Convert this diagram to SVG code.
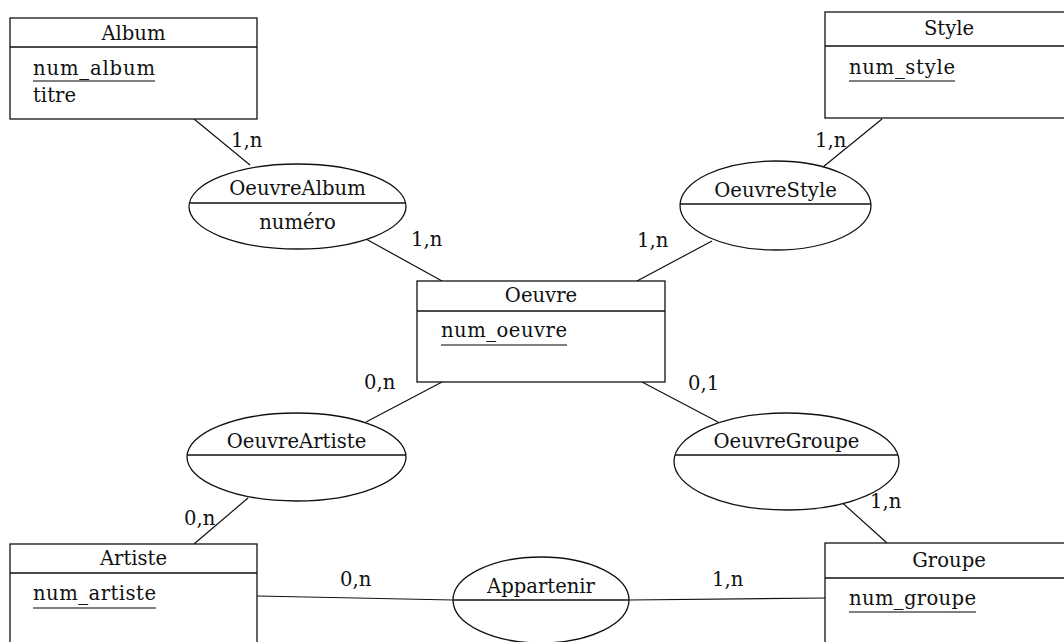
<svg xmlns="http://www.w3.org/2000/svg" width="1064" height="642" viewBox="0 0 1064 642">
  <style>
    text { font-family: "DejaVu Serif", "Liberation Serif", serif; font-size: 19.6px; fill: #111; }
    .c { text-anchor: middle; }
    .box { fill: #fff; stroke: #111; stroke-width: 1.3; }
    .div { stroke: #111; stroke-width: 1.3; }
    .key { stroke: #555; stroke-width: 1.4; }
    .link { stroke: #111; stroke-width: 1.2; fill: none; }
  </style>
  <rect width="1064" height="642" fill="#fff"/>

  <!-- connectors between entities and associations -->
  <g id="connectors">
    <line class="link" x1="194" y1="119" x2="250" y2="165"/>
    <line class="link" x1="366" y1="239" x2="442" y2="281"/>
    <line class="link" x1="882" y1="119" x2="823" y2="167"/>
    <line class="link" x1="712" y1="241" x2="637" y2="281"/>
    <line class="link" x1="442" y1="382" x2="366" y2="422"/>
    <line class="link" x1="642" y1="382" x2="718" y2="422"/>
    <line class="link" x1="248" y1="498" x2="194" y2="544"/>
    <line class="link" x1="837" y1="498" x2="887" y2="543"/>
    <line class="link" x1="257" y1="596" x2="453" y2="600"/>
    <line class="link" x1="629" y1="600" x2="825" y2="598"/>
    <text x="231" y="147">1,n</text>
    <text x="411" y="246">1,n</text>
    <text x="815" y="147">1,n</text>
    <text x="637" y="247">1,n</text>
    <text x="364" y="389">0,n</text>
    <text x="688" y="390">0,1</text>
    <text x="184" y="525">0,n</text>
    <text x="870" y="508">1,n</text>
    <text x="340" y="586">0,n</text>
    <text x="712" y="586">1,n</text>
  </g>

  <!-- entities -->
  <g id="album">
    <rect class="box" x="10" y="18" width="247" height="101"/>
    <line class="div" x1="10" y1="47" x2="257" y2="47"/>
    <text class="c" x="133.5" y="40">Album</text>
    <text x="33" y="75" textLength="122" lengthAdjust="spacing">num_album</text>
    <line class="key" x1="33" y1="81" x2="155" y2="81"/>
    <text x="33" y="102">titre</text>
  </g>

  <g id="style">
    <rect class="box" x="825" y="12" width="250" height="106"/>
    <line class="div" x1="825" y1="46" x2="1075" y2="46"/>
    <text class="c" x="949" y="35">Style</text>
    <text x="849" y="74" textLength="106" lengthAdjust="spacing">num_style</text>
    <line class="key" x1="849" y1="81" x2="955" y2="81"/>
  </g>

  <g id="oeuvre">
    <rect class="box" x="417" y="281" width="248" height="101"/>
    <line class="div" x1="417" y1="311" x2="665" y2="311"/>
    <text class="c" x="541" y="302">Oeuvre</text>
    <text x="441" y="337" textLength="126" lengthAdjust="spacing">num_oeuvre</text>
    <line class="key" x1="441" y1="345" x2="567" y2="345"/>
  </g>

  <g id="artiste">
    <rect class="box" x="10" y="544" width="247" height="120"/>
    <line class="div" x1="10" y1="573" x2="257" y2="573"/>
    <text class="c" x="133.5" y="565">Artiste</text>
    <text x="33" y="600" textLength="123" lengthAdjust="spacing">num_artiste</text>
    <line class="key" x1="33" y1="608" x2="156" y2="608"/>
  </g>

  <g id="groupe">
    <rect class="box" x="825" y="543" width="250" height="120"/>
    <line class="div" x1="825" y1="578" x2="1075" y2="578"/>
    <text class="c" x="949" y="567">Groupe</text>
    <text x="849" y="605" textLength="127" lengthAdjust="spacing">num_groupe</text>
    <line class="key" x1="849" y1="612" x2="976" y2="612"/>
  </g>

  <!-- associations -->
  <g id="oeuvre-album">
    <ellipse class="box" cx="297.5" cy="206.5" rx="108.5" ry="42.5"/>
    <line class="div" x1="189.4" y1="203" x2="405.6" y2="203"/>
    <text class="c" x="297.5" y="195">OeuvreAlbum</text>
    <text class="c" x="297.5" y="229">numéro</text>
  </g>

  <g id="oeuvre-style">
    <ellipse class="box" cx="775.5" cy="205.5" rx="95.5" ry="44.5"/>
    <line class="div" x1="680" y1="204" x2="871" y2="204"/>
    <text class="c" x="775.5" y="197">OeuvreStyle</text>
  </g>

  <g id="oeuvre-artiste">
    <ellipse class="box" cx="296.5" cy="457" rx="109.5" ry="44"/>
    <line class="div" x1="187.1" y1="455" x2="405.9" y2="455"/>
    <text class="c" x="296.5" y="448">OeuvreArtiste</text>
  </g>

  <g id="oeuvre-groupe">
    <ellipse class="box" cx="786.5" cy="461.5" rx="112.5" ry="48.5"/>
    <line class="div" x1="675" y1="455" x2="898" y2="455"/>
    <text class="c" x="786.5" y="448">OeuvreGroupe</text>
  </g>

  <g id="appartenir">
    <ellipse class="box" cx="541" cy="600" rx="88" ry="43"/>
    <line class="div" x1="453" y1="600" x2="629" y2="600"/>
    <text class="c" x="541" y="593">Appartenir</text>
  </g>
</svg>
